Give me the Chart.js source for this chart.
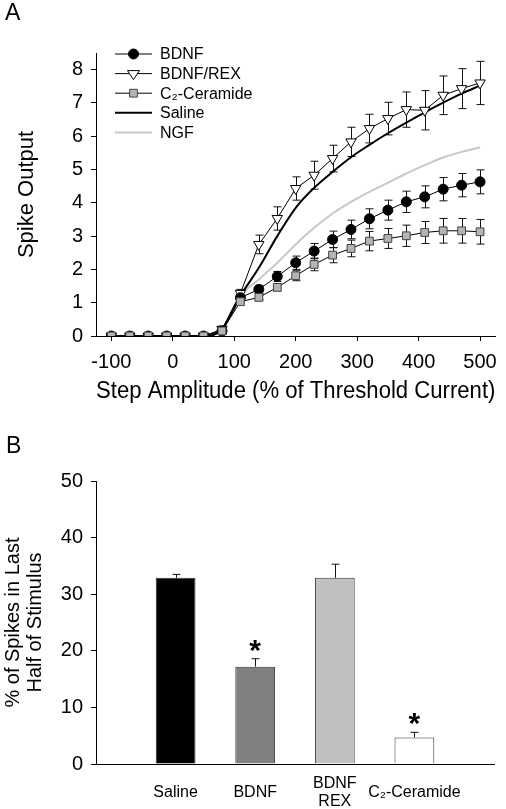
<!DOCTYPE html>
<html>
<head>
<meta charset="utf-8">
<script src="https://cdn.jsdelivr.net/npm/chart.js@4.4.1/dist/chart.umd.min.js"></script>
<style>
body{margin:0;background:#fff;width:506px;height:809px;position:relative;overflow:hidden;font-family:"Liberation Sans",Arial,sans-serif;}
.panel{position:absolute;left:0;width:506px;}
#wrapA{top:0;height:405px;}
#wrapB{top:405px;height:404px;}
.letter{position:absolute;font-size:23px;line-height:1;color:#000;}
</style>
</head>
<body>
<div class="panel" id="wrapA"><canvas id="chartA" width="506" height="405"></canvas></div>
<div class="panel" id="wrapB"><canvas id="chartB" width="506" height="404"></canvas></div>
<div class="letter" style="left:5px;top:1px">A</div>
<div class="letter" style="left:6px;top:434px">B</div>
<script>
// panel A: spike output vs step amplitude
const stepAmps = [-100,-70,-40,-10,20,50,80,110,140,170,200,230,260,290,320,350,380,410,440,470,500];
const bdnf = [0,0,0,0,0,0,0.15,1.15,1.4,1.79,2.2,2.55,2.9,3.2,3.52,3.78,4.03,4.18,4.41,4.53,4.63];
const bdnfErr = [0,0,0,0,0,0,0.08,0.1,0.12,0.15,0.2,0.23,0.25,0.28,0.3,0.3,0.32,0.33,0.35,0.35,0.36];
const bdnfRex = [0,0,0,0,0,0,0.2,1.28,2.75,3.53,4.43,4.83,5.33,5.83,6.23,6.53,6.8,6.78,7.23,7.43,7.6];
const bdnfRexErr = [0,0,0,0,0,0,0.1,0.12,0.28,0.35,0.35,0.42,0.4,0.44,0.43,0.49,0.53,0.59,0.58,0.6,0.65];
const ceramide = [0,0,0,0,0,0,0.15,1.03,1.16,1.46,1.81,2.15,2.43,2.63,2.85,2.93,3.01,3.11,3.16,3.16,3.13];
const ceramideErr = [0,0,0,0,0,0,0.1,0.06,0.07,0.1,0.15,0.19,0.23,0.25,0.29,0.3,0.32,0.33,0.37,0.37,0.37];
const saline = [0,0,0,0,0,0,0.2,1.2,2.05,3.0,3.85,4.45,4.93,5.37,5.74,6.09,6.41,6.72,7.01,7.28,7.52];
const ngf = [0,0,0,0,0,0,0.2,1.2,1.7,2.2,2.75,3.25,3.68,4.03,4.33,4.6,4.88,5.13,5.36,5.53,5.66];

// panel B: % of spikes in last half
const groups = ['Saline','BDNF',['BDNF','REX'],'C\u2082-Ceramide'];
const pctLastHalf = [32.9, 17.2, 32.9, 4.7];
const pctErr = [0.6, 1.4, 2.4, 0.9];
const significant = [false, true, false, true];

const FONT = '"Liberation Sans", Arial, sans-serif';
Chart.defaults.font.family = FONT;
Chart.defaults.color = '#000';

const pts = arr => stepAmps.map((x, i) => ({x: x, y: arr[i]}));

const errorBars = {
  id: 'errorBars',
  draw(chart, opts) {
    const ctx = chart.ctx;
    const yScale = chart.scales.y;
    chart.data.datasets.forEach((ds, i) => {
      if (!ds.errors) return;
      const meta = chart.getDatasetMeta(i);
      ctx.save();
      ctx.strokeStyle = '#111';
      ctx.lineWidth = 1;
      meta.data.forEach((el, j) => {
        const err = ds.errors[j];
        if (!err) return;
        const raw = ds.data[j];
        const v = typeof raw === 'object' ? raw.y : raw;
        const top = yScale.getPixelForValue(v + err);
        const bot = opts.upOnly ? yScale.getPixelForValue(v) : yScale.getPixelForValue(v - err);
        const x = Math.round(el.x) + 0.5;
        ctx.beginPath();
        ctx.moveTo(x, top); ctx.lineTo(x, bot);
        ctx.moveTo(x - 4, top); ctx.lineTo(x + 4, top);
        if (!opts.upOnly) { ctx.moveTo(x - 4, bot); ctx.lineTo(x + 4, bot); }
        ctx.stroke();
        if (ds.stars && ds.stars[j]) {
          ctx.fillStyle = '#000';
          ctx.font = 'bold 30px ' + FONT;
          ctx.textAlign = 'center';
          ctx.textBaseline = 'alphabetic';
          ctx.fillText('*', el.x, top + 1);
        }
      });
      ctx.restore();
    });
  },
  beforeDatasetsDraw(chart, args, opts) { if (opts.under) this.draw(chart, opts); },
  afterDatasetsDraw(chart, args, opts) { if (!opts.under) this.draw(chart, opts); }
};

function marker(ctx, style, x, y, ds) {
  ctx.save();
  ctx.fillStyle = ds.pointBackgroundColor;
  ctx.strokeStyle = ds.pointBorderColor;
  ctx.lineWidth = 1;
  ctx.beginPath();
  const r = ds.pointRadius;
  if (style === 'circle') {
    ctx.arc(x, y, r, 0, Math.PI * 2);
  } else if (style === 'triangle') {
    ctx.moveTo(x - r, y - r * 0.5);
    ctx.lineTo(x + r, y - r * 0.5);
    ctx.lineTo(x, y + r);
    ctx.closePath();
  } else {
    const s = r * Math.SQRT1_2;
    ctx.rect(x - s, y - s, 2 * s, 2 * s);
  }
  ctx.fill();
  ctx.stroke();
  ctx.restore();
}

const insideLegend = {
  id: 'insideLegend',
  afterDraw(chart) {
    const ctx = chart.ctx;
    chart.data.datasets.forEach((ds, i) => {
      const y = 54 + i * 19.6;
      ctx.save();
      ctx.strokeStyle = ds.borderColor;
      ctx.lineWidth = ds.borderWidth;
      ctx.beginPath();
      ctx.moveTo(115, y); ctx.lineTo(152, y);
      ctx.stroke();
      ctx.restore();
      if (ds.pointRadius > 0) marker(ctx, ds.pointStyle, 133.5, y, ds);
      ctx.fillStyle = '#000';
      ctx.font = '16px ' + FONT;
      ctx.textAlign = 'left';
      ctx.textBaseline = 'middle';
      ctx.fillText(ds.label, 160, y + 1);
    });
  }
};

new Chart(document.getElementById('chartA'), {
  type: 'line',
  data: {
    datasets: [
      {label: 'BDNF', data: pts(bdnf), errors: bdnfErr, order: 1,
       borderColor: '#000', borderWidth: 1, pointStyle: 'circle', pointRadius: 5,
       pointBackgroundColor: '#000', pointBorderColor: '#000'},
      {label: 'BDNF/REX', data: pts(bdnfRex), errors: bdnfRexErr, order: 2,
       borderColor: '#000', borderWidth: 1, pointStyle: 'triangle', pointRotation: 180, pointRadius: 6,
       pointBackgroundColor: '#fff', pointBorderColor: '#000'},
      {label: 'C\u2082-Ceramide', data: pts(ceramide), errors: ceramideErr, order: 0,
       borderColor: '#000', borderWidth: 1, pointStyle: 'rect', pointRadius: 5.5,
       pointBackgroundColor: '#b4b4b4', pointBorderColor: '#444'},
      {label: 'Saline', data: pts(saline), order: 3,
       borderColor: '#000', borderWidth: 2, pointRadius: 0, cubicInterpolationMode: 'monotone'},
      {label: 'NGF', data: pts(ngf), order: 4,
       borderColor: '#c8c8c8', borderWidth: 2, pointRadius: 0, cubicInterpolationMode: 'monotone'}
    ]
  },
  options: {
    responsive: false,
    animation: false,
    layout: {padding: {top: 53, right: 4, left: 0, bottom: 0}},
    plugins: {
      legend: {display: false},
      tooltip: {enabled: false},
      errorBars: {under: true}
    },
    scales: {
      x: {
        type: 'linear', min: -125, max: 525,
        afterFit: s => { s.height = 69; },
        ticks: {stepSize: 100, includeBounds: false, maxRotation: 0, color: '#000', font: {size: 20}, padding: 9},
        grid: {drawOnChartArea: false, tickLength: 5, color: '#000'},
        border: {color: '#000', width: 1},
        title: {display: true, text: 'Step Amplitude (% of Threshold Current)', color: '#000', font: {size: 23}, padding: {top: 2, bottom: 0}}
      },
      y: {
        min: 0, max: 8.5,
        afterFit: s => { s.width = 96; },
        ticks: {stepSize: 1, includeBounds: false, color: '#000', font: {size: 20}, padding: 8},
        grid: {drawOnChartArea: false, tickLength: 5, color: '#000'},
        border: {color: '#000', width: 1},
        title: {display: true, text: 'Spike Output', color: '#000', font: {size: 22}, padding: {top: 14, bottom: 0}}
      }
    }
  },
  plugins: [errorBars, insideLegend]
});

new Chart(document.getElementById('chartB'), {
  type: 'bar',
  data: {
    labels: ['', ...groups, ''],
    datasets: [{
      data: [null, ...pctLastHalf, null],
      errors: [0, ...pctErr, 0],
      stars: [false, ...significant, false],
      backgroundColor: ['#000', '#000000', '#808080', '#c0c0c0', '#ffffff', '#000'],
      borderColor: '#333',
      borderWidth: 1,
      barPercentage: 0.5,
      categoryPercentage: 1
    }]
  },
  options: {
    responsive: false,
    animation: false,
    layout: {padding: {top: 76, right: 4, left: 0, bottom: 0}},
    plugins: {
      legend: {display: false},
      tooltip: {enabled: false},
      errorBars: {under: false, upOnly: true}
    },
    scales: {
      x: {
        offset: false,
        afterFit: s => { s.height = 45; },
        ticks: {color: '#000', font: {size: 16, lineHeight: 1.1}, padding: 12, maxRotation: 0, autoSkip: false, crossAlign: 'center'},
        grid: {display: false},
        border: {color: '#000', width: 1}
      },
      y: {
        min: 0, max: 50,
        afterFit: s => { s.width = 96; },
        ticks: {stepSize: 10, color: '#000', font: {size: 20}, padding: 8},
        grid: {drawOnChartArea: false, tickLength: 5, color: '#000'},
        border: {color: '#000', width: 1},
        title: {display: true, text: ['% of Spikes in Last', 'Half of Stimulus'], color: '#000', font: {size: 20, lineHeight: 1.1}, padding: {top: 2, bottom: 0}}
      }
    }
  },
  plugins: [errorBars]
});
</script>
</body>
</html>
